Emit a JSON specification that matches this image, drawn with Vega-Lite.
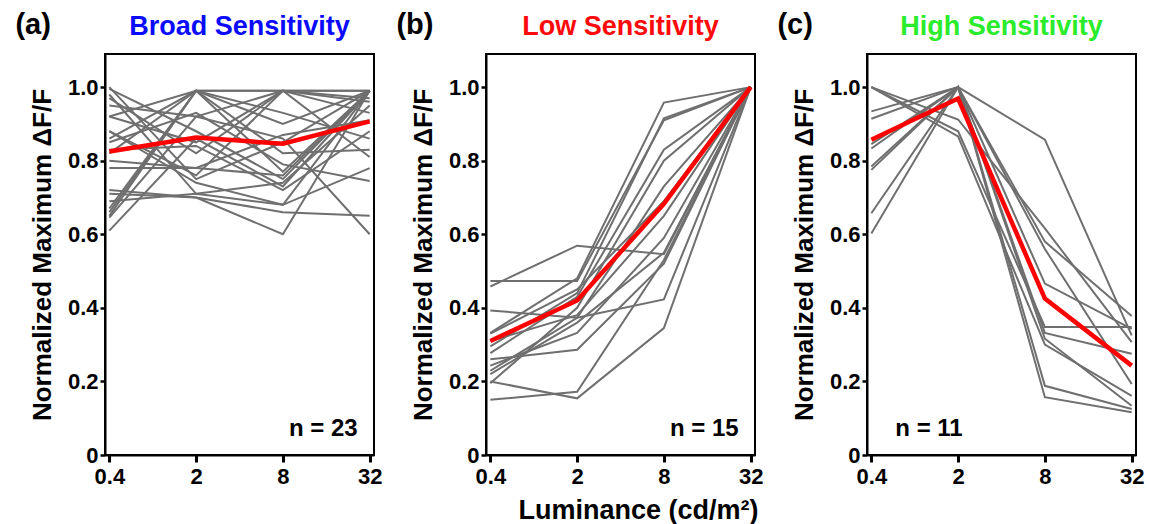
{
"$schema": "https://vega.github.io/schema/vega-lite/v6.json",
"background": "white",
"padding": {"left": 15, "top": 11, "right": 5, "bottom": 5},
"config": {
  "font": "Liberation Sans",
  "view": {"stroke": "black", "strokeWidth": 2},
  "axis": {"grid": false, "domainColor": "black", "domainWidth": 2, "tickColor": "black", "tickWidth": 2.5, "labelFont": "Liberation Sans", "labelFontWeight": "bold", "labelFontSize": 22, "labelColor": "black", "titleFontSize": 26, "titleFontWeight": "bold", "titleColor": "black", "titleFont": "Liberation Sans"},
  "title": {"fontSize": 27, "fontWeight": "bold", "font": "Liberation Sans"},
  "concat": {"spacing": 13}
},
"datasets": {
  "a": [
    {"c":1,"l":0.4,"v":0.71},{"c":1,"l":2,"v":0.70},{"c":1,"l":8,"v":0.66},{"c":1,"l":32,"v":0.65},
    {"c":2,"l":0.4,"v":0.95},{"c":2,"l":2,"v":0.92},{"c":2,"l":8,"v":0.86},{"c":2,"l":32,"v":0.60},
    {"c":3,"l":0.4,"v":0.72},{"c":3,"l":2,"v":0.70},{"c":3,"l":8,"v":0.60},{"c":3,"l":32,"v":0.99},
    {"c":4,"l":0.4,"v":0.69},{"c":4,"l":2,"v":0.71},{"c":4,"l":8,"v":0.68},{"c":4,"l":32,"v":0.78},
    {"c":5,"l":0.4,"v":0.78},{"c":5,"l":2,"v":0.78},{"c":5,"l":8,"v":0.76},{"c":5,"l":32,"v":0.99},
    {"c":6,"l":0.4,"v":1.00},{"c":6,"l":2,"v":0.75},{"c":6,"l":8,"v":0.85},{"c":6,"l":32,"v":0.99},
    {"c":7,"l":0.4,"v":0.98},{"c":7,"l":2,"v":0.71},{"c":7,"l":8,"v":0.74},{"c":7,"l":32,"v":0.95},
    {"c":8,"l":0.4,"v":0.65},{"c":8,"l":2,"v":0.99},{"c":8,"l":8,"v":0.99},{"c":8,"l":32,"v":0.99},
    {"c":9,"l":0.4,"v":0.66},{"c":9,"l":2,"v":0.99},{"c":9,"l":8,"v":0.77},{"c":9,"l":32,"v":0.99},
    {"c":10,"l":0.4,"v":0.67},{"c":10,"l":2,"v":0.99},{"c":10,"l":8,"v":0.99},{"c":10,"l":32,"v":0.97},
    {"c":11,"l":0.4,"v":0.645},{"c":11,"l":2,"v":0.92},{"c":11,"l":8,"v":0.99},{"c":11,"l":32,"v":0.99},
    {"c":12,"l":0.4,"v":0.61},{"c":12,"l":2,"v":0.86},{"c":12,"l":8,"v":0.73},{"c":12,"l":32,"v":0.99},
    {"c":13,"l":0.4,"v":0.92},{"c":13,"l":2,"v":0.99},{"c":13,"l":8,"v":0.93},{"c":13,"l":32,"v":0.86},
    {"c":14,"l":0.4,"v":0.92},{"c":14,"l":2,"v":0.85},{"c":14,"l":8,"v":0.99},{"c":14,"l":32,"v":0.81},
    {"c":15,"l":0.4,"v":0.88},{"c":15,"l":2,"v":0.76},{"c":15,"l":8,"v":0.99},{"c":15,"l":32,"v":0.93},
    {"c":16,"l":0.4,"v":0.86},{"c":16,"l":2,"v":0.99},{"c":16,"l":8,"v":0.82},{"c":16,"l":32,"v":0.83},
    {"c":17,"l":0.4,"v":0.85},{"c":17,"l":2,"v":0.93},{"c":17,"l":8,"v":0.79},{"c":17,"l":32,"v":0.745},
    {"c":18,"l":0.4,"v":0.83},{"c":18,"l":2,"v":0.84},{"c":18,"l":8,"v":0.72},{"c":18,"l":32,"v":0.88},
    {"c":19,"l":0.4,"v":0.82},{"c":19,"l":2,"v":0.99},{"c":19,"l":8,"v":0.90},{"c":19,"l":32,"v":0.99},
    {"c":20,"l":0.4,"v":0.80},{"c":20,"l":2,"v":0.78},{"c":20,"l":8,"v":0.87},{"c":20,"l":32,"v":0.91},
    {"c":21,"l":0.4,"v":0.995},{"c":21,"l":2,"v":0.88},{"c":21,"l":8,"v":0.75},{"c":21,"l":32,"v":0.99},
    {"c":22,"l":0.4,"v":0.97},{"c":22,"l":2,"v":0.82},{"c":22,"l":8,"v":0.99},{"c":22,"l":32,"v":0.96},
    {"c":23,"l":0.4,"v":0.88},{"c":23,"l":2,"v":0.74},{"c":23,"l":8,"v":0.68},{"c":23,"l":32,"v":0.99}
  ],
  "am": [{"l":0.4,"v":0.825},{"l":2,"v":0.863},{"l":8,"v":0.846},{"l":32,"v":0.907}],
  "b": [
    {"c":1,"l":0.4,"v":0.473},{"c":1,"l":2,"v":0.473},{"c":1,"l":8,"v":0.91},{"c":1,"l":32,"v":1.0},
    {"c":2,"l":0.4,"v":0.458},{"c":2,"l":2,"v":0.569},{"c":2,"l":8,"v":0.546},{"c":2,"l":32,"v":1.0},
    {"c":3,"l":0.4,"v":0.393},{"c":3,"l":2,"v":0.373},{"c":3,"l":8,"v":0.423},{"c":3,"l":32,"v":1.0},
    {"c":4,"l":0.4,"v":0.332},{"c":4,"l":2,"v":0.48},{"c":4,"l":8,"v":0.958},{"c":4,"l":32,"v":1.0},
    {"c":5,"l":0.4,"v":0.295},{"c":5,"l":2,"v":0.44},{"c":5,"l":8,"v":0.915},{"c":5,"l":32,"v":1.0},
    {"c":6,"l":0.4,"v":0.277},{"c":6,"l":2,"v":0.43},{"c":6,"l":8,"v":0.83},{"c":6,"l":32,"v":1.0},
    {"c":7,"l":0.4,"v":0.26},{"c":7,"l":2,"v":0.286},{"c":7,"l":8,"v":0.52},{"c":7,"l":32,"v":1.0},
    {"c":8,"l":0.4,"v":0.243},{"c":8,"l":2,"v":0.332},{"c":8,"l":8,"v":0.59},{"c":8,"l":32,"v":1.0},
    {"c":9,"l":0.4,"v":0.229},{"c":9,"l":2,"v":0.373},{"c":9,"l":8,"v":0.73},{"c":9,"l":32,"v":1.0},
    {"c":10,"l":0.4,"v":0.20},{"c":10,"l":2,"v":0.154},{"c":10,"l":8,"v":0.345},{"c":10,"l":32,"v":1.0},
    {"c":11,"l":0.4,"v":0.15},{"c":11,"l":2,"v":0.172},{"c":11,"l":8,"v":0.53},{"c":11,"l":32,"v":1.0},
    {"c":12,"l":0.4,"v":0.195},{"c":12,"l":2,"v":0.40},{"c":12,"l":8,"v":0.80},{"c":12,"l":32,"v":1.0},
    {"c":13,"l":0.4,"v":0.31},{"c":13,"l":2,"v":0.38},{"c":13,"l":8,"v":0.65},{"c":13,"l":32,"v":1.0},
    {"c":14,"l":0.4,"v":0.22},{"c":14,"l":2,"v":0.36},{"c":14,"l":8,"v":0.55},{"c":14,"l":32,"v":1.0},
    {"c":15,"l":0.4,"v":0.33},{"c":15,"l":2,"v":0.45},{"c":15,"l":8,"v":0.69},{"c":15,"l":32,"v":1.0}
  ],
  "bm": [{"l":0.4,"v":0.31},{"l":2,"v":0.42},{"l":8,"v":0.683},{"l":32,"v":1.0}],
  "c": [
    {"c":1,"l":0.4,"v":1.0},{"c":1,"l":2,"v":0.912},{"c":1,"l":8,"v":0.616},{"c":1,"l":32,"v":0.307},
    {"c":2,"l":0.4,"v":1.0},{"c":2,"l":2,"v":0.88},{"c":2,"l":8,"v":0.348},{"c":2,"l":32,"v":0.348},
    {"c":3,"l":0.4,"v":1.0},{"c":3,"l":2,"v":0.866},{"c":3,"l":8,"v":0.30},{"c":3,"l":32,"v":0.161},
    {"c":4,"l":0.4,"v":0.934},{"c":4,"l":2,"v":1.0},{"c":4,"l":8,"v":0.857},{"c":4,"l":32,"v":0.325},
    {"c":5,"l":0.4,"v":0.914},{"c":5,"l":2,"v":1.0},{"c":5,"l":8,"v":0.58},{"c":5,"l":32,"v":0.378},
    {"c":6,"l":0.4,"v":0.845},{"c":6,"l":2,"v":1.0},{"c":6,"l":8,"v":0.56},{"c":6,"l":32,"v":0.193},
    {"c":7,"l":0.4,"v":0.833},{"c":7,"l":2,"v":1.0},{"c":7,"l":8,"v":0.466},{"c":7,"l":32,"v":0.343},
    {"c":8,"l":0.4,"v":0.784},{"c":8,"l":2,"v":1.0},{"c":8,"l":8,"v":0.332},{"c":8,"l":32,"v":0.275},
    {"c":9,"l":0.4,"v":0.775},{"c":9,"l":2,"v":1.0},{"c":9,"l":8,"v":0.316},{"c":9,"l":32,"v":0.134},
    {"c":10,"l":0.4,"v":0.657},{"c":10,"l":2,"v":1.0},{"c":10,"l":8,"v":0.188},{"c":10,"l":32,"v":0.125},
    {"c":11,"l":0.4,"v":0.602},{"c":11,"l":2,"v":1.0},{"c":11,"l":8,"v":0.157},{"c":11,"l":32,"v":0.116}
  ],
  "cm": [{"l":0.4,"v":0.857},{"l":2,"v":0.969},{"l":8,"v":0.425},{"l":32,"v":0.243}]
},
"hconcat": [
  {
    "title": {"text": "(a)", "anchor": "start", "frame": "bounds", "color": "black", "offset": -28, "dx": -13, "fontSize": 29},
    "vconcat": [{
      "title": {"text": "Broad Sensitivity", "color": "#0a0aff", "offset": 13},
      "width": 269, "height": 401,
      "encoding": {
        "x": {"field": "l", "type": "ordinal", "scale": {"type": "point", "domain": [0.4, 2, 8, 32], "padding": 0.05}, "axis": {"title": null, "labelAngle": 0, "tickSize": 7, "tickWidth": 3, "labelPadding": 4}},
        "y": {"field": "v", "type": "quantitative", "scale": {"domain": [0, 1.09], "nice": false}, "axis": {"values": [0, 0.2, 0.4, 0.6, 0.8, 1.0], "labelExpr": "datum.value == 0 ? '0' : format(datum.value, '.1f')", "tickSize": 5, "labelPadding": 2, "title": "Normalized Maximum ΔF/F", "titlePadding": 12}}
      },
      "layer": [
        {"data": {"name": "a"}, "mark": {"type": "line", "color": "#6f6f6f", "strokeWidth": 2}, "encoding": {"detail": {"field": "c"}}},
        {"data": {"name": "am"}, "mark": {"type": "line", "color": "#ff0000", "strokeWidth": 4.5}},
        {"data": {"values": [{"label": "n = 23", "l": 32, "v": 0.071}]}, "mark": {"type": "text", "align": "right", "baseline": "middle", "dx": -12, "fontSize": 24, "fontWeight": "bold", "color": "black"}, "encoding": {"text": {"field": "label"}}}
      ]
    }]
  },
  {
    "title": {"text": "(b)", "anchor": "start", "frame": "bounds", "color": "black", "offset": -28, "dx": -13, "fontSize": 29},
    "vconcat": [{
      "title": {"text": "Low Sensitivity", "color": "#ff0a0a", "offset": 13},
      "width": 269, "height": 401,
      "encoding": {
        "x": {"field": "l", "type": "ordinal", "scale": {"type": "point", "domain": [0.4, 2, 8, 32], "padding": 0.05}, "axis": {"title": "Luminance (cd/m²)", "titleFontSize": 27, "titlePadding": 10, "titleX": 152, "labelAngle": 0, "tickSize": 7, "tickWidth": 3, "labelPadding": 4}},
        "y": {"field": "v", "type": "quantitative", "scale": {"domain": [0, 1.09], "nice": false}, "axis": {"values": [0, 0.2, 0.4, 0.6, 0.8, 1.0], "labelExpr": "datum.value == 0 ? '0' : format(datum.value, '.1f')", "tickSize": 5, "labelPadding": 2, "title": "Normalized Maximum ΔF/F", "titlePadding": 12}}
      },
      "layer": [
        {"data": {"name": "b"}, "mark": {"type": "line", "color": "#6f6f6f", "strokeWidth": 2}, "encoding": {"detail": {"field": "c"}}},
        {"data": {"name": "bm"}, "mark": {"type": "line", "color": "#ff0000", "strokeWidth": 4.5}},
        {"data": {"values": [{"label": "n = 15", "l": 32, "v": 0.071}]}, "mark": {"type": "text", "align": "right", "baseline": "middle", "dx": -12, "fontSize": 24, "fontWeight": "bold", "color": "black"}, "encoding": {"text": {"field": "label"}}}
      ]
    }]
  },
  {
    "title": {"text": "(c)", "anchor": "start", "frame": "bounds", "color": "black", "offset": -28, "dx": -13, "fontSize": 29},
    "vconcat": [{
      "title": {"text": "High Sensitivity", "color": "#2aec2a", "offset": 13},
      "width": 269, "height": 401,
      "encoding": {
        "x": {"field": "l", "type": "ordinal", "scale": {"type": "point", "domain": [0.4, 2, 8, 32], "padding": 0.05}, "axis": {"title": null, "labelAngle": 0, "tickSize": 7, "tickWidth": 3, "labelPadding": 4}},
        "y": {"field": "v", "type": "quantitative", "scale": {"domain": [0, 1.09], "nice": false}, "axis": {"values": [0, 0.2, 0.4, 0.6, 0.8, 1.0], "labelExpr": "datum.value == 0 ? '0' : format(datum.value, '.1f')", "tickSize": 5, "labelPadding": 2, "title": "Normalized Maximum ΔF/F", "titlePadding": 12}}
      },
      "layer": [
        {"data": {"name": "c"}, "mark": {"type": "line", "color": "#6f6f6f", "strokeWidth": 2}, "encoding": {"detail": {"field": "c"}}},
        {"data": {"name": "cm"}, "mark": {"type": "line", "color": "#ff0000", "strokeWidth": 4.5}},
        {"data": {"values": [{"label": "n = 11", "l": 0.4, "v": 0.071}]}, "mark": {"type": "text", "align": "left", "baseline": "middle", "dx": 24, "fontSize": 24, "fontWeight": "bold", "color": "black"}, "encoding": {"text": {"field": "label"}}}
      ]
    }]
  }
]
}
